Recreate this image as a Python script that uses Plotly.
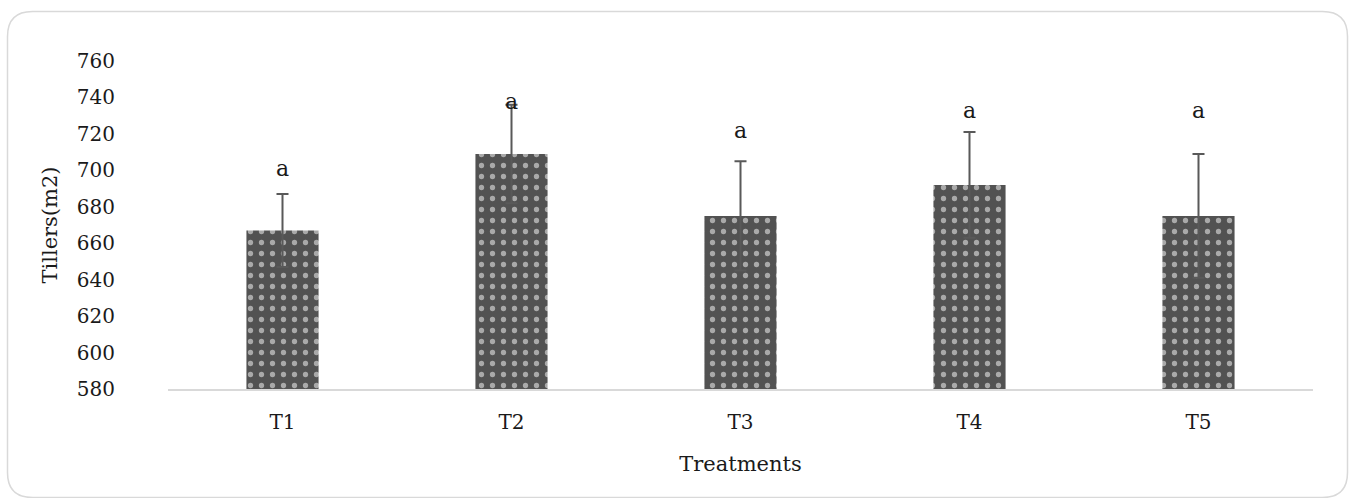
import plotly.graph_objects as go

treatments = ["T1", "T2", "T3", "T4", "T5"]
tillers = [667, 709, 675, 692, 675]
errors = [20, 27, 30, 29, 34]
letters = ["a", "a", "a", "a", "a"]
letter_y = [701, 738, 722, 733, 733]

FONT = "DejaVu Serif"

fig = go.Figure()
fig.add_trace(go.Bar(
    x=treatments, y=tillers,
    marker=dict(color="#5a5a5a", line=dict(width=0),
                pattern=dict(shape=".", fgcolor="white", bgcolor="#525252",
                             size=11, solidity=0.18)),
    error_y=dict(type="data", array=errors, visible=True,
                 color="#595959", thickness=2, width=6),
    width=0.315,
))

for t, ly, lt in zip(treatments, letter_y, letters):
    fig.add_annotation(x=t, y=ly, text=lt, showarrow=False,
                       font=dict(family=FONT, size=22, color="#1a1a1a"),
                       xanchor="center", yanchor="middle")

fig.update_layout(
    width=1349, height=498,
    margin=dict(l=168, r=36, t=61, b=109),
    paper_bgcolor="white", plot_bgcolor="white",
    showlegend=False,
    font=dict(family=FONT, size=20, color="#1a1a1a"),
    xaxis=dict(showline=True, linecolor="#d9d9d9", linewidth=1.5,
               showgrid=False, ticks="", tickfont=dict(size=20),
               ticklabelstandoff=14,
               title=dict(text="Treatments", font=dict(size=21), standoff=24)),
    yaxis=dict(range=[580, 760], dtick=20, showgrid=False, showline=False,
               zeroline=False, ticks="", ticklabelstandoff=52,
               tickfont=dict(size=20),
               title=dict(text="Tillers(m2)", font=dict(size=21), standoff=13)),
)

# rounded border around the chart area (pixel coordinates converted to paper)
W, H = 1349, 498
pl, pr, pt, pb = 168, 36, 61, 109
pw, ph = W - pl - pr, H - pt - pb
def px(x):
    return (x - pl) / pw
def py(y):
    return 1 - (y - pt) / ph
x0, y0, x1, y1, r = 7.5, 11.5, 1347.5, 497.5, 25
path = (f"M {px(x0 + r)},{py(y0)} L {px(x1 - r)},{py(y0)} "
        f"Q {px(x1)},{py(y0)} {px(x1)},{py(y0 + r)} "
        f"L {px(x1)},{py(y1 - r)} Q {px(x1)},{py(y1)} {px(x1 - r)},{py(y1)} "
        f"L {px(x0 + r)},{py(y1)} Q {px(x0)},{py(y1)} {px(x0)},{py(y1 - r)} "
        f"L {px(x0)},{py(y0 + r)} Q {px(x0)},{py(y0)} {px(x0 + r)},{py(y0)} Z")
fig.add_shape(type="path", xref="paper", yref="paper", path=path,
              line=dict(color="#d9d9d9", width=1.5), layer="below")

fig.write_html("out.html")
